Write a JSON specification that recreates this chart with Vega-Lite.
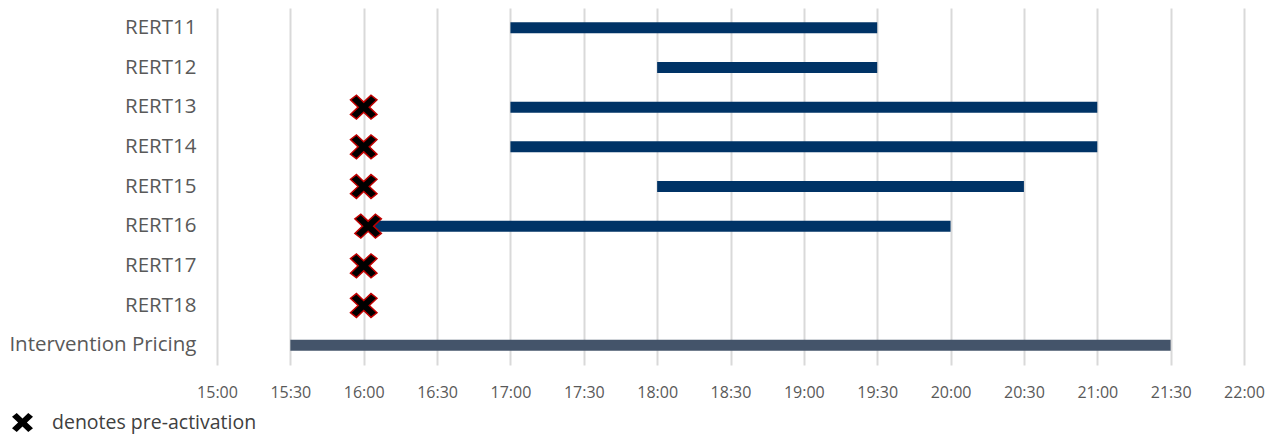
{
  "$schema": "https://vega.github.io/schema/vega-lite/v6.json",
  "width": 1027,
  "height": 357,
  "autosize": {"type": "none"},
  "padding": {"left": 217, "top": 8, "right": 34, "bottom": 69},
  "background": "white",
  "data": {
    "values": [
      {"name": "RERT11", "start": 17, "end": 19.5, "kind": "RERT", "pre": null},
      {"name": "RERT12", "start": 18, "end": 19.5, "kind": "RERT", "pre": null},
      {"name": "RERT13", "start": 17, "end": 21, "kind": "RERT", "pre": 16},
      {"name": "RERT14", "start": 17, "end": 21, "kind": "RERT", "pre": 16},
      {"name": "RERT15", "start": 18, "end": 20.5, "kind": "RERT", "pre": 16},
      {"name": "RERT16", "start": 16.04, "end": 20, "kind": "RERT", "pre": 16.03},
      {"name": "RERT17", "start": null, "end": null, "kind": "RERT", "pre": 16},
      {"name": "RERT18", "start": null, "end": null, "kind": "RERT", "pre": 16},
      {"name": "Intervention Pricing", "start": 15.5, "end": 21.5, "kind": "IP", "pre": null}
    ]
  },
  "config": {
    "view": {"stroke": null},
    "font": "Open Sans",
    "axis": {"labelFont": "Open Sans", "labelColor": "#595959"}
  },
  "encoding": {
    "y": {
      "field": "name",
      "type": "nominal",
      "sort": ["RERT11", "RERT12", "RERT13", "RERT14", "RERT15", "RERT16", "RERT17", "RERT18", "Intervention Pricing"],
      "scale": {"paddingInner": 0, "paddingOuter": 0},
      "axis": {
        "title": null,
        "domain": false,
        "ticks": false,
        "grid": false,
        "labelFontSize": 20.5,
        "labelPadding": 21,
        "labelLimit": 300
      }
    }
  },
  "layer": [
    {
      "mark": {"type": "bar", "height": 11},
      "transform": [{"filter": "datum.start != null"}],
      "encoding": {
        "x": {
          "field": "start",
          "type": "quantitative",
          "scale": {"domain": [15, 22], "nice": false, "zero": false},
          "axis": {
            "title": null,
            "values": [15, 15.5, 16, 16.5, 17, 17.5, 18, 18.5, 19, 19.5, 20, 20.5, 21, 21.5, 22],
            "labelExpr": "floor(datum.value) + ':' + (datum.value % 1 == 0 ? '00' : '30')",
            "domain": false,
            "ticks": false,
            "grid": true,
            "gridColor": "#D9D9D9",
            "gridWidth": 2,
            "labelFontSize": 16,
            "labelPadding": 19,
            "labelFlush": false,
            "labelOverlap": false
          }
        },
        "x2": {"field": "end"},
        "color": {
          "field": "kind",
          "type": "nominal",
          "scale": {"domain": ["RERT", "IP"], "range": ["#003366", "#44546A"]},
          "legend": null
        }
      }
    },
    {
      "mark": {
        "type": "point",
        "filled": true,
        "fill": "black",
        "stroke": "#C00000",
        "strokeWidth": 1.5,
        "opacity": 1,
        "size": 700
      },
      "transform": [
        {"filter": "datum.pre != null"},
        {"calculate": "'denotes pre-activation'", "as": "note"}
      ],
      "encoding": {
        "x": {"field": "pre", "type": "quantitative"},
        "shape": {
          "field": "note",
          "type": "nominal",
          "scale": {
            "range": ["M-1,-0.55L-0.55,-0.9L0,-0.38L0.55,-0.9L1,-0.55L0.42,0L1,0.55L0.55,0.9L0,0.38L-0.55,0.9L-1,0.55L-0.42,0Z"]
          },
          "legend": {
            "title": null,
            "orient": "none",
            "legendX": -206,
            "legendY": 403,
            "labelFontSize": 19.5,
            "labelColor": "#404040",
            "labelFont": "Open Sans",
            "labelLimit": 400,
            "symbolSize": 440,
            "symbolFillColor": "black",
            "symbolStrokeColor": "#C00000",
            "symbolStrokeWidth": 1.5,
            "symbolOpacity": 1,
            "labelOffset": 18
          }
        }
      }
    }
  ]
}
